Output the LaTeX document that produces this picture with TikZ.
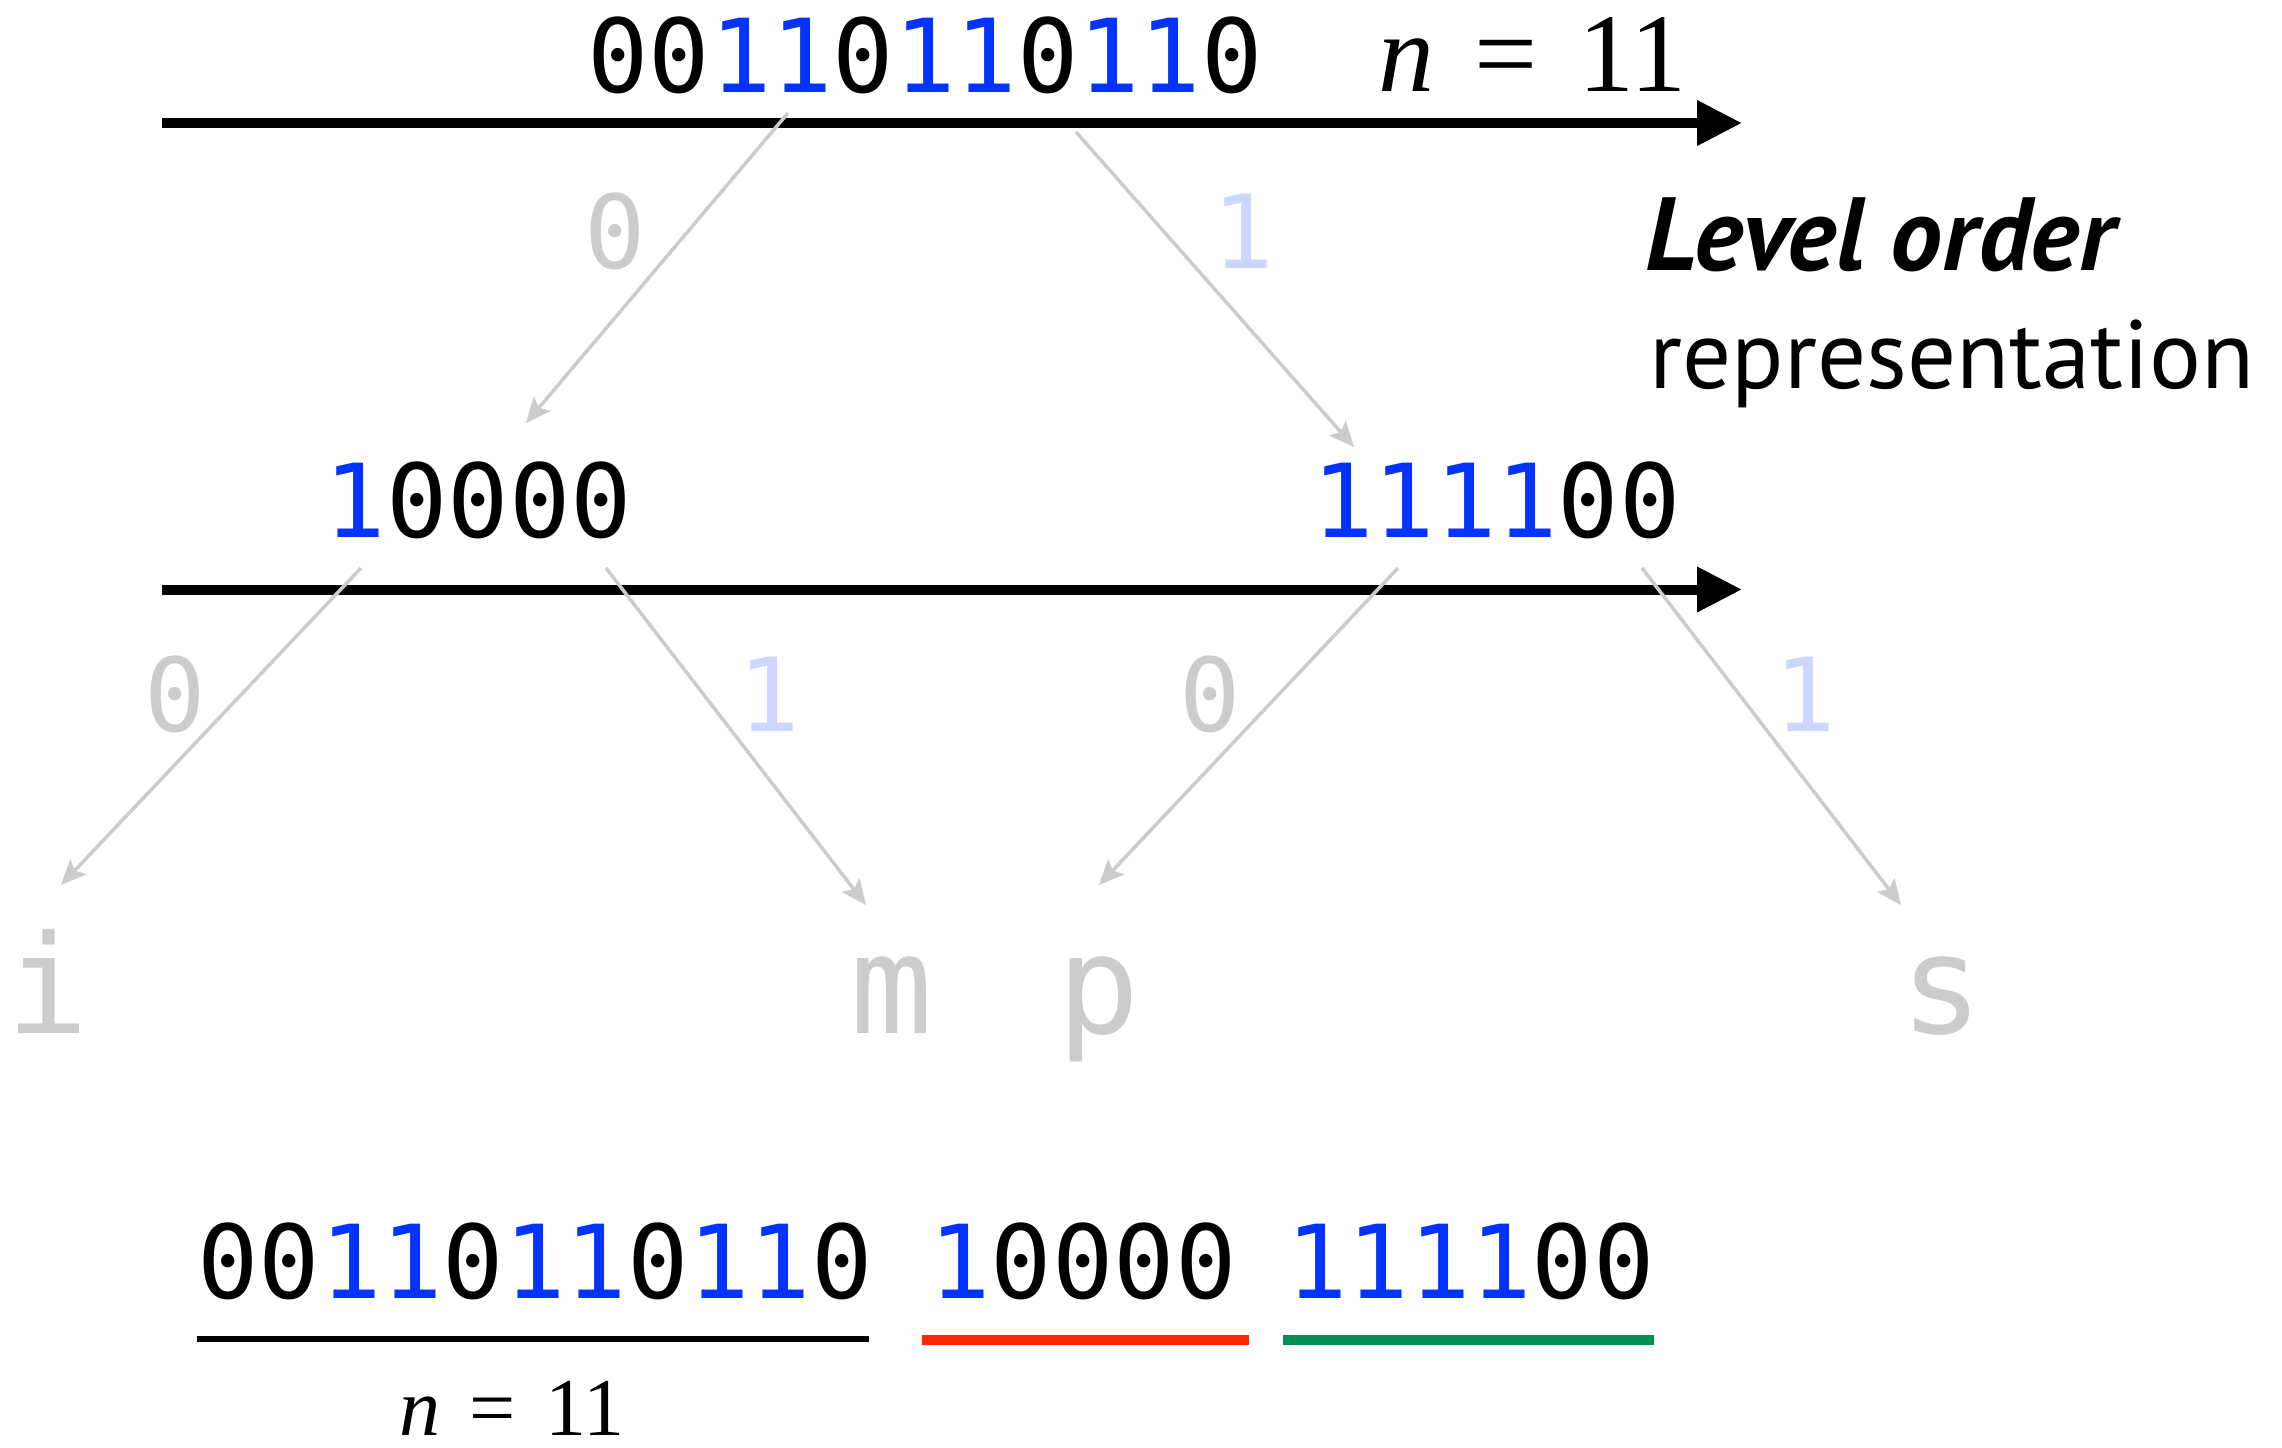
\documentclass[tikz,border=0pt]{standalone}
\usepackage{fontspec}
\usetikzlibrary{arrows.meta}
\newfontfamily\monof{DejaVu Sans Mono}
\newfontfamily\serff{Liberation Serif}
\newfontfamily\sansf{PT Sans}
\definecolor{bitblue}{RGB}{4,51,255}
\definecolor{labblue}{RGB}{205,214,255}
\definecolor{edgegray}{RGB}{204,204,204}
\definecolor{linered}{RGB}{255,38,0}
\definecolor{linegreen}{RGB}{0,144,81}
\newcommand{\bb}[1]{{\color{bitblue}#1}}
\newcommand{\neleven}{\textit{n}\hspace{0.36em}=\hspace{0.36em}11}
\tikzset{
  bits/.style={inner sep=0pt, anchor=base, font=\monof\fontsize{51}{60}\selectfont},
  leaf/.style={inner sep=0pt, anchor=base, text=edgegray, font=\monof\fontsize{68.5}{80}\selectfont},
  elab0/.style={inner sep=0pt, anchor=base, text=edgegray, font=\monof\fontsize{51}{60}\selectfont},
  elab1/.style={inner sep=0pt, anchor=base, text=labblue, font=\monof\fontsize{51}{60}\selectfont},
  axis/.style={line width=5pt, -{Triangle[length=22.5pt,width=21.5pt]}},
  edge/.style={draw=edgegray, line width=1.75pt, -{Stealth[length=12.5pt,width=11pt,inset=2.5pt]}},
}
\begin{document}
\begin{tikzpicture}[x=0.5pt,y=-0.5pt]
\useasboundingbox (0,0) rectangle (2282,1447);
% axes
\coordinate (ax1s) at (162,123);
\coordinate (ax1e) at (1742,123);
\coordinate (ax2s) at (162,589.5);
\coordinate (ax2e) at (1742,589.5);
\draw[axis] (ax1s) -- (ax1e);
\draw[axis] (ax2s) -- (ax2e);
% level 0
\node[bits] (root) at (925,92) {00\bb{11}0\bb{11}0\bb{11}0};
\node[inner sep=0pt, anchor=base west, font=\serff\fontsize{56}{60}\selectfont] (n1) at (1378,91) {\neleven};
\node[inner sep=0pt, anchor=base west, font=\sansf\bfseries\itshape\fontsize{52}{60}\selectfont] (title) at (1645,270) {Level order};
\node[inner sep=0pt, anchor=base west, font=\sansf\fontsize{48.5}{60}\selectfont] (subtitle) at (1649,388) {representation};
% level 1
\node[bits] (left) at (478.5,537) {\bb{1}0000};
\node[bits] (right) at (1496.5,537) {\bb{1111}00};
% edges level 0 -> 1
\coordinate (r0s) at (788,113); \coordinate (r0t) at (526,423);
\coordinate (r1s) at (1076,132); \coordinate (r1t) at (1354,447);
\draw[edge] (r0s) -- (r0t);
\draw[edge] (r1s) -- (r1t);
\node[elab0] (lab0) at (615,268) {0};
\node[elab1] (lab1) at (1243,268) {1};
% leaves
\node[leaf] (li) at (48,1033) {i};
\node[leaf] (lm) at (892,1033) {m};
\node[leaf] (lp) at (1099,1033) {p};
\node[leaf] (ls) at (1942,1033) {s};
% edges level 1 -> 2
\coordinate (a0s) at (361,568); \coordinate (a0t) at (61,885);
\coordinate (a1s) at (606,568); \coordinate (a1t) at (866,905);
\coordinate (b0s) at (1398,568); \coordinate (b0t) at (1099,885);
\coordinate (b1s) at (1642,568); \coordinate (b1t) at (1901,905);
\draw[edge] (a0s) -- (a0t);
\draw[edge] (a1s) -- (a1t);
\draw[edge] (b0s) -- (b0t);
\draw[edge] (b1s) -- (b1t);
\node[elab0] (la0) at (175,731) {0};
\node[elab1] (la1) at (769,731) {1};
\node[elab0] (lb0) at (1210,731) {0};
\node[elab1] (lb1) at (1805,731) {1};
% bottom sequence
\node[bits] (s1) at (535,1298) {00\bb{11}0\bb{11}0\bb{11}0};
\node[bits] (s2) at (1083,1298) {\bb{1}0000};
\node[bits] (s3) at (1470.5,1298) {\bb{1111}00};
\coordinate (u1s) at (197,1339); \coordinate (u1e) at (869,1339);
\coordinate (u2s) at (922,1340); \coordinate (u2e) at (1249,1340);
\coordinate (u3s) at (1283,1340); \coordinate (u3e) at (1654,1340);
\draw[line width=3pt] (u1s) -- (u1e);
\draw[line width=5pt, linered] (u2s) -- (u2e);
\draw[line width=5pt, linegreen] (u3s) -- (u3e);
\node[inner sep=0pt, anchor=base west, font=\serff\fontsize{41}{45}\selectfont] (n2) at (399,1435) {\neleven};
\end{tikzpicture}
\end{document}
